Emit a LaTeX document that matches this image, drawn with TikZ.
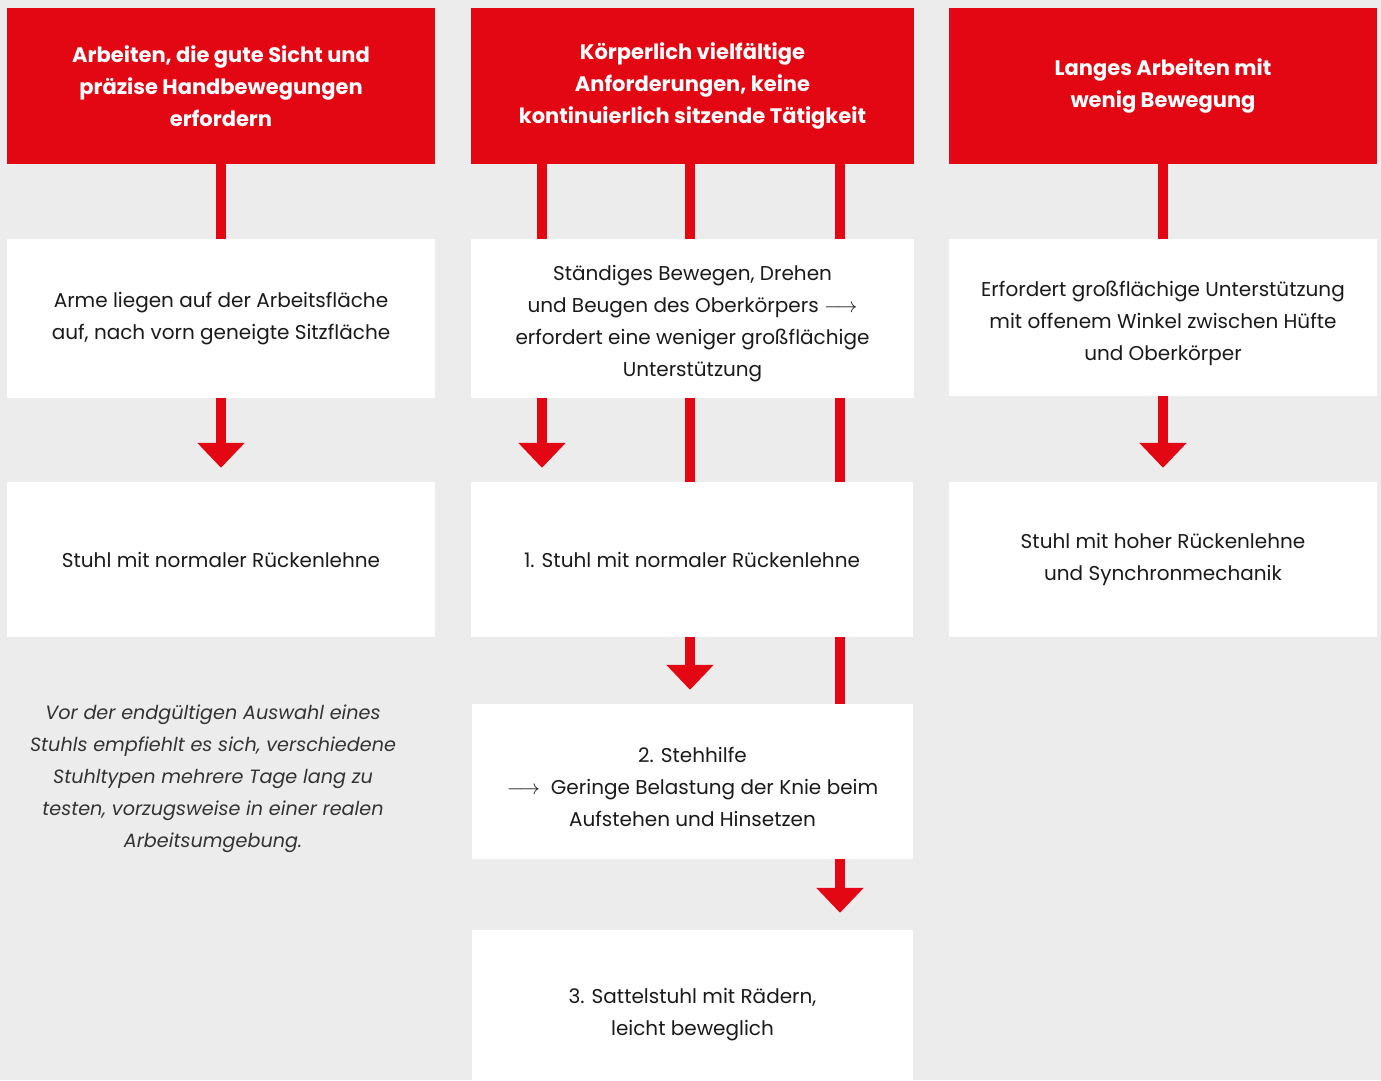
\documentclass[tikz,border=0pt]{standalone}
\usepackage{fontspec}
\setmainfont{Poppins}
\usetikzlibrary{arrows.meta}
\definecolor{bg}{HTML}{ECECEC}
\definecolor{rd}{HTML}{E30613}
\definecolor{tx}{HTML}{1A1A1A}
\definecolor{nt}{HTML}{333333}
\begin{document}
\begin{tikzpicture}[x=1pt,y=-1pt,
  hdr/.style={fill=rd, text=white, font=\bfseries\fontsize{21}{32}\selectfont, align=center, inner sep=0pt},
  wbox/.style={fill=white, text=tx, font=\fontsize{20}{32}\selectfont, align=center, inner sep=0pt},
  wtxt/.style={text=tx, font=\fontsize{20}{32}\selectfont, align=center, inner sep=0pt},
  note/.style={text=nt, font=\itshape\fontsize{19.2}{32}\selectfont, align=center, inner sep=0pt},
  conn/.style={draw=rd, line width=10.5pt},
  arr/.style={conn, -{Triangle[width=46pt,length=25pt]}, shorten >=14pt},
]
\useasboundingbox (0,0) rectangle (1381,1080);
\clip (0,0) rectangle (1381,1080);
\fill[bg] (0,0) rectangle (1381,1080);

% headers
\node[hdr, minimum width=428pt, minimum height=156pt] (h1) at (221,86)
  {Arbeiten, die gute Sicht und\\präzise Handbewegungen\\erfordern};
\node[hdr, minimum width=443pt, minimum height=156pt] (h2) at (692.5,86)
  {Körperlich vielfältige\\Anforderungen, keine\\kontinuierlich sitzende Tätigkeit};
\node[hdr, minimum width=428pt, minimum height=156pt] (h3) at (1163,86)
  {Langes Arbeiten mit\\wenig Bewegung};

% row 2
\node[wbox, minimum width=428pt, minimum height=159pt] (b1) at (221,318.5)
  {Arme liegen auf der Arbeitsfläche\\auf, nach vorn geneigte Sitzfläche};
\node[wbox, minimum width=443pt, minimum height=159pt] (b2) at (692.5,318.5) {};
\node[wtxt] (b2t) at (692.5,323.5)
  {Ständiges Bewegen, Drehen\\und Beugen des Oberkörpers $\longrightarrow$\\erfordert eine weniger großflächige\\Unterstützung};
\node[wbox, minimum width=428pt, minimum height=157pt] (b3) at (1163,317.5) {};
\node[wtxt] (b3t) at (1163,323)
  {Erfordert großflächige Unterstützung\\mit offenem Winkel zwischen Hüfte\\und Oberkörper};

% row 3
\node[wbox, minimum width=428pt, minimum height=155pt] (c1) at (221,559.5)
  {Stuhl mit normaler Rückenlehne};
\node[wbox, minimum width=442pt, minimum height=155pt] (c2) at (692,559.5)
  {1. Stuhl mit normaler Rückenlehne};
\node[wbox, minimum width=428pt, minimum height=155pt] (c3) at (1163,559.5)
  {Stuhl mit hoher Rückenlehne\\und Synchronmechanik};

% row 4 / 5
\node[wbox, minimum width=441pt, minimum height=155pt] (d2) at (692.5,781.5) {};
\node[wtxt] (d2t) at (692.5,786.5)
  {2. Stehhilfe\\$\longrightarrow$\ \ Geringe Belastung der Knie beim\\Aufstehen und Hinsetzen};
\node[wbox, minimum width=441pt, minimum height=170pt] (e2) at (692.5,1015)
  {3. Sattelstuhl mit Rädern,\\leicht beweglich};

% note
\node[note] (n1) at (213,779)
  {Vor der endgültigen Auswahl eines\\Stuhls empfiehlt es sich, verschiedene\\Stuhltypen mehrere Tage lang zu\\testen, vorzugsweise in einer realen\\Arbeitsumgebung.};

% connector columns
\coordinate (x1) at (221,0);
\coordinate (x2a) at (542,0);
\coordinate (x2b) at (690,0);
\coordinate (x2c) at (840,0);
\coordinate (x3) at (1163,0);

\draw[conn] (h1.south -| x1) -- (b1.north -| x1);
\draw[arr] (b1.south -| x1) -- (c1.north -| x1);

\draw[conn] (h2.south -| x2a) -- (b2.north -| x2a);
\draw[conn] (h2.south -| x2b) -- (b2.north -| x2b);
\draw[conn] (h2.south -| x2c) -- (b2.north -| x2c);
\draw[arr] (b2.south -| x2a) -- (c2.north -| x2a);
\draw[conn] (b2.south -| x2b) -- (c2.north -| x2b);
\draw[conn] (b2.south -| x2c) -- (c2.north -| x2c);
\draw[arr] (c2.south -| x2b) -- (d2.north -| x2b);
\draw[conn] (c2.south -| x2c) -- (d2.north -| x2c);
\draw[arr, shorten >=17pt] (d2.south -| x2c) -- (e2.north -| x2c);

\draw[conn] (h3.south -| x3) -- (b3.north -| x3);
\draw[arr] (b3.south -| x3) -- (c3.north -| x3);
\end{tikzpicture}
\end{document}
